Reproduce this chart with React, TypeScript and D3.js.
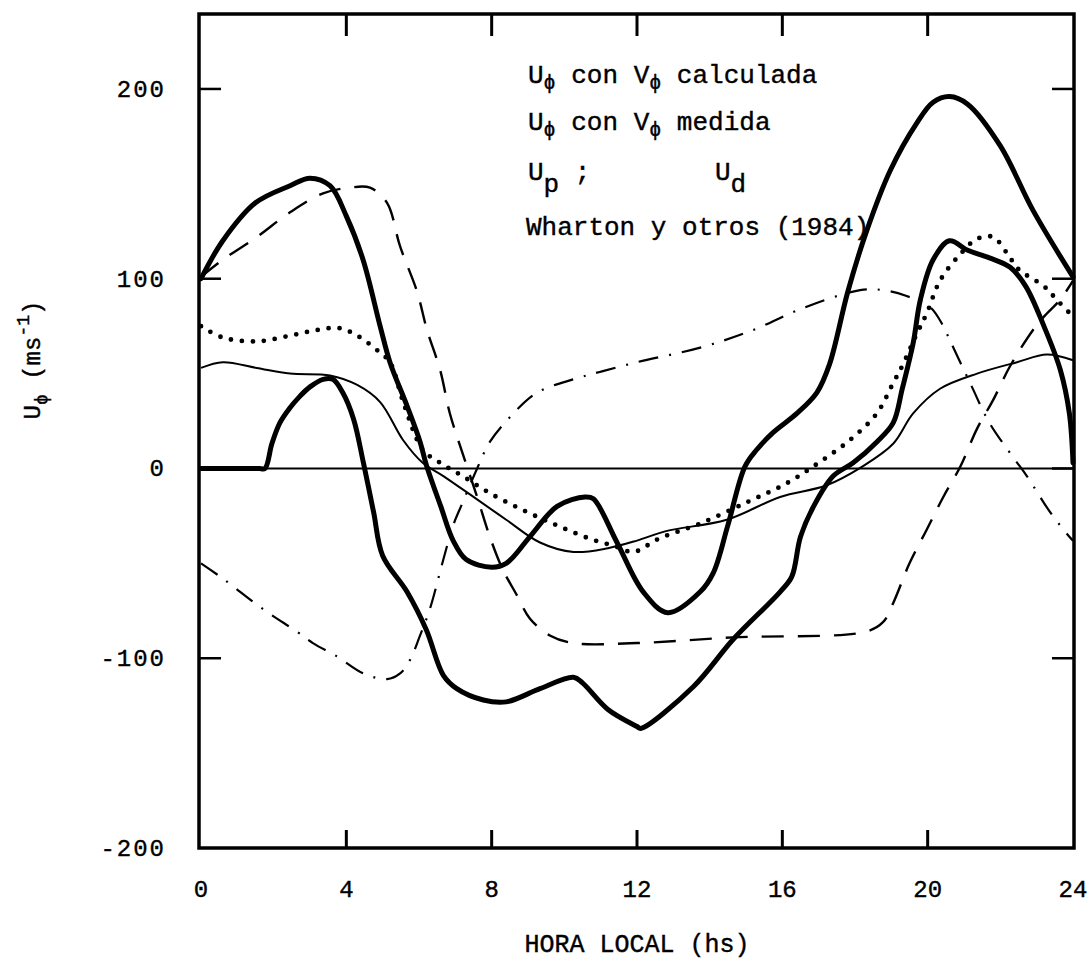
import React from "react";
import * as d3 from "d3";

// Hourly wind profiles Uϕ (m/s) vs local time (hours)
const hoursTicks = [0, 4, 8, 12, 16, 20, 24];
const valueTicks = [200, 100, 0, -100, -200];

// Uϕ with computed Vϕ (heavy solid, upper)
const uCalc: [number, number][] = [
  [0, 100], [0.6, 120], [1.5, 140], [2.45, 149], [3.0, 153], [3.55, 149], [4.0, 133],
  [4.46, 110], [4.93, 75], [5.2, 56], [5.67, 33], [6.03, 14], [6.2, 2], [6.6, -20],
  [6.94, -38], [7.3, -48], [8.0, -52], [8.4, -50], [9.05, -36], [9.8, -20], [10.57, -15],
  [10.8, -16], [11.45, -39], [12.17, -65], [12.85, -76], [13.74, -65], [14.1, -55],
  [14.5, -30], [14.97, 1], [15.3, 10], [15.75, 19], [16.4, 29], [16.95, 40], [17.3, 55],
  [17.8, 93], [18.3, 124], [18.97, 157], [19.7, 182], [20.15, 193], [20.6, 196],
  [21.1, 192], [22.0, 170], [22.9, 136], [24, 101],
];

// Uϕ with measured Vϕ (heavy solid, lower)
const uMeas: [number, number][] = [
  [0, 0], [0.6, 0], [1.2, 0], [1.6, 0], [1.76, 0], [1.95, 13], [2.17, 24], [2.45, 32],
  [2.72, 38], [3.0, 43], [3.36, 47], [3.63, 47], [3.9, 40], [4.2, 26],
  [4.47, 3], [4.75, -23], [5.0, -46], [5.67, -65], [6.2, -85], [6.67, -109], [7.04, -116],
  [7.77, -122], [8.4, -123], [9.33, -116], [10.25, -110], [10.5, -113], [11.2, -127],
  [12.0, -136], [12.1, -137], [13.55, -115], [14.65, -90], [15.94, -65], [16.26, -57],
  [16.5, -36], [16.86, -20], [17.4, -4], [17.95, 3], [18.6, 14], [19.05, 24], [19.3, 42],
  [19.6, 66], [19.8, 89], [20.15, 110], [20.6, 120], [21.1, 115], [21.7, 111],
  [22.27, 106], [22.7, 96], [23.2, 75], [23.65, 52], [23.9, 29], [24, 3],
];

// Wharton et al. (1984) (thin solid)
const uWharton: [number, number][] = [
  [0, 53], [0.6, 56], [1.53, 53], [2.45, 50], [3.55, 49], [4.3, 44], [4.93, 35],
  [5.56, 15], [6.1, 3], [6.67, -4], [7.5, -15], [8.4, -27], [9.33, -39], [10.25, -44],
  [11.2, -42], [12.0, -38], [12.8, -33], [14.47, -27], [15.94, -15], [17.2, -9],
  [18.2, 1], [19.05, 13], [19.6, 29], [20.34, 42], [21.36, 50], [22.46, 56],
  [23.28, 60], [24, 57],
];

// Dotted profile
const uDotted: [number, number][] = [
  [0, 75], [0.6, 69], [1.54, 67], [2.45, 70], [3.2, 73], [3.8, 74], [4.3, 70],
  [4.93, 61], [5.2, 56], [5.6, 33], [6.1, 10], [6.58, 3], [7.2, -4], [7.95, -13],
  [8.87, -22], [9.8, -30], [10.7, -37], [11.4, -41], [11.9, -44], [12.6, -37],
  [13.74, -29], [15.0, -18], [16.1, -8], [17.0, 3], [17.86, 15], [18.6, 29],
  [19.05, 45], [19.3, 54], [19.7, 71], [19.98, 82], [20.34, 99], [20.9, 113],
  [21.36, 121], [21.8, 122], [22.2, 113], [22.5, 105], [23.2, 96], [23.55, 89], [24, 80],
];

// Ud (dashed)
const uD: [number, number][] = [
  [0, 101], [0.6, 110], [1.54, 122], [2.45, 135], [3.36, 145], [4.1, 148], [4.65, 148],
  [5.12, 140], [5.48, 117], [5.95, 93], [6.22, 73], [6.58, 52], [6.85, 29], [7.2, 8],
  [7.6, -15], [7.95, -36], [8.3, -53], [8.7, -67], [9.05, -79], [9.6, -88], [10.25, -92],
  [12, -92], [14.65, -89], [18.3, -86], [18.77, -81], [19.05, -71], [19.5, -50],
  [19.98, -32], [20.43, -15], [20.9, 1], [21.36, 21], [21.8, 36], [22.27, 54],
  [22.9, 73], [23.2, 80], [23.65, 89], [24, 99],
];

// Up (dash-dot)
const uP: [number, number][] = [
  [0, -50], [0.6, -58], [1.7, -74], [2.64, -86], [3.08, -92], [3.74, -99], [4.47, -108],
  [5.12, -111], [5.48, -108], [5.75, -101], [6.03, -88], [6.3, -74], [6.67, -48],
  [6.94, -30], [7.2, -18], [7.6, 0], [7.95, 14], [8.5, 27], [9.25, 40], [10.25, 47],
  [11.0, 51], [12, 56], [13.8, 64], [15.2, 73], [16.5, 84], [18.14, 94], [18.77, 94],
  [19.4, 91], [20.07, 85], [20.43, 75], [20.6, 68], [21.17, 45], [21.7, 24],
  [22.35, 6], [22.73, -4], [23.37, -23], [23.9, -36], [24, -38],
];

const W = 1089;
const H = 965;
const FONT = "'Liberation Mono', 'DejaVu Sans Mono', monospace";

export default function App() {
  const x = d3.scaleLinear().domain([0, 24]).range([201, 1073]);
  const y = d3.scaleLinear().domain([-200, 239.5]).range([848, 14]);
  const line = d3
    .line<[number, number]>()
    .x((d) => x(d[0]))
    .y((d) => y(d[1]))
    .curve(d3.curveCatmullRom.alpha(0.5));

  const left = 199;
  const right = 1074;
  const top = 14;
  const bottom = 848;

  const series = [
    { data: uWharton, width: 2, dash: undefined as string | undefined, cap: "butt" },
    { data: uP, width: 2.2, dash: "20 11 2 11", cap: "butt" },
    { data: uD, width: 2.4, dash: "22 14", cap: "butt" },
    { data: uDotted, width: 4.8, dash: "0 11", cap: "round" },
    { data: uMeas, width: 5, dash: undefined, cap: "round" },
    { data: uCalc, width: 5, dash: undefined, cap: "round" },
  ];

  return (
    <svg
      width={W}
      height={H}
      style={{ position: "absolute", left: 0, top: 0, background: "#fff" }}
      fontFamily={FONT}
    >
      <rect x={0} y={0} width={W} height={H} fill="#fff" />
      {/* zero line */}
      <line x1={left} x2={right} y1={y(0)} y2={y(0)} stroke="#000" strokeWidth={2} />

      {series.map((s, i) => (
        <path
          key={i}
          d={line(s.data) || ""}
          fill="none"
          stroke="#000"
          strokeWidth={s.width}
          strokeDasharray={s.dash}
          strokeLinecap={s.cap as any}
          strokeLinejoin="round"
        />
      ))}

      {/* frame */}
      <rect
        x={left}
        y={top}
        width={right - left}
        height={bottom - top}
        fill="none"
        stroke="#000"
        strokeWidth={3.5}
      />

      {/* inward ticks */}
      {hoursTicks.slice(1, -1).map((h) => (
        <g key={"xt" + h}>
          <line x1={x(h)} x2={x(h)} y1={top} y2={top + 22} stroke="#000" strokeWidth={3} />
          <line x1={x(h)} x2={x(h)} y1={bottom} y2={bottom - 18} stroke="#000" strokeWidth={3} />
        </g>
      ))}
      {valueTicks.slice(0, -1).map((v) => (
        <g key={"yt" + v}>
          <line x1={left} x2={left + 22} y1={y(v)} y2={y(v)} stroke="#000" strokeWidth={2.5} />
          <line x1={right} x2={right - 22} y1={y(v)} y2={y(v)} stroke="#000" strokeWidth={2.5} />
        </g>
      ))}

      <g stroke="#000" strokeWidth={0.4}>
        {/* tick labels */}
        {hoursTicks.map((h) => (
          <text key={"xl" + h} x={x(h)} y={897} fontSize={24} textAnchor="middle">
            {h}
          </text>
        ))}
        {valueTicks.map((v) => (
          <text key={"yl" + v} x={166} y={y(v) + 8} fontSize={24} textAnchor="end" letterSpacing={2}>
            {v}
          </text>
        ))}

        {/* axis titles */}
        <text x={637} y={952} fontSize={25} textAnchor="middle">
          HORA LOCAL (hs)
        </text>
        <text transform="translate(40,360) rotate(-90)" fontSize={24} textAnchor="middle">
          U
          <tspan fontSize={18} dy={7}>ϕ</tspan>
          <tspan dy={-7}>{"  (ms"}</tspan>
          <tspan fontSize={18} dy={-11}>-1</tspan>
          <tspan dy={11}>)</tspan>
        </text>

        {/* legend text */}
        <g fontSize={26}>
          <text x={528} y={83}>
            U<tspan fontSize={20} dy={6}>ϕ</tspan>
            <tspan dy={-6}> con V</tspan>
            <tspan fontSize={20} dy={6}>ϕ</tspan>
            <tspan dy={-6}> calculada</tspan>
          </text>
          <text x={528} y={130}>
            U<tspan fontSize={20} dy={6}>ϕ</tspan>
            <tspan dy={-6}> con V</tspan>
            <tspan fontSize={20} dy={6}>ϕ</tspan>
            <tspan dy={-6}> medida</tspan>
          </text>
          <text x={528} y={180}>
            U<tspan dy={12}>p</tspan>
            <tspan dy={-12}> ;</tspan>
          </text>
          <text x={715} y={180}>
            U<tspan dy={12}>d</tspan>
          </text>
          <text x={526} y={235}>Wharton y otros (1984)</text>
        </g>
      </g>
    </svg>
  );
}
